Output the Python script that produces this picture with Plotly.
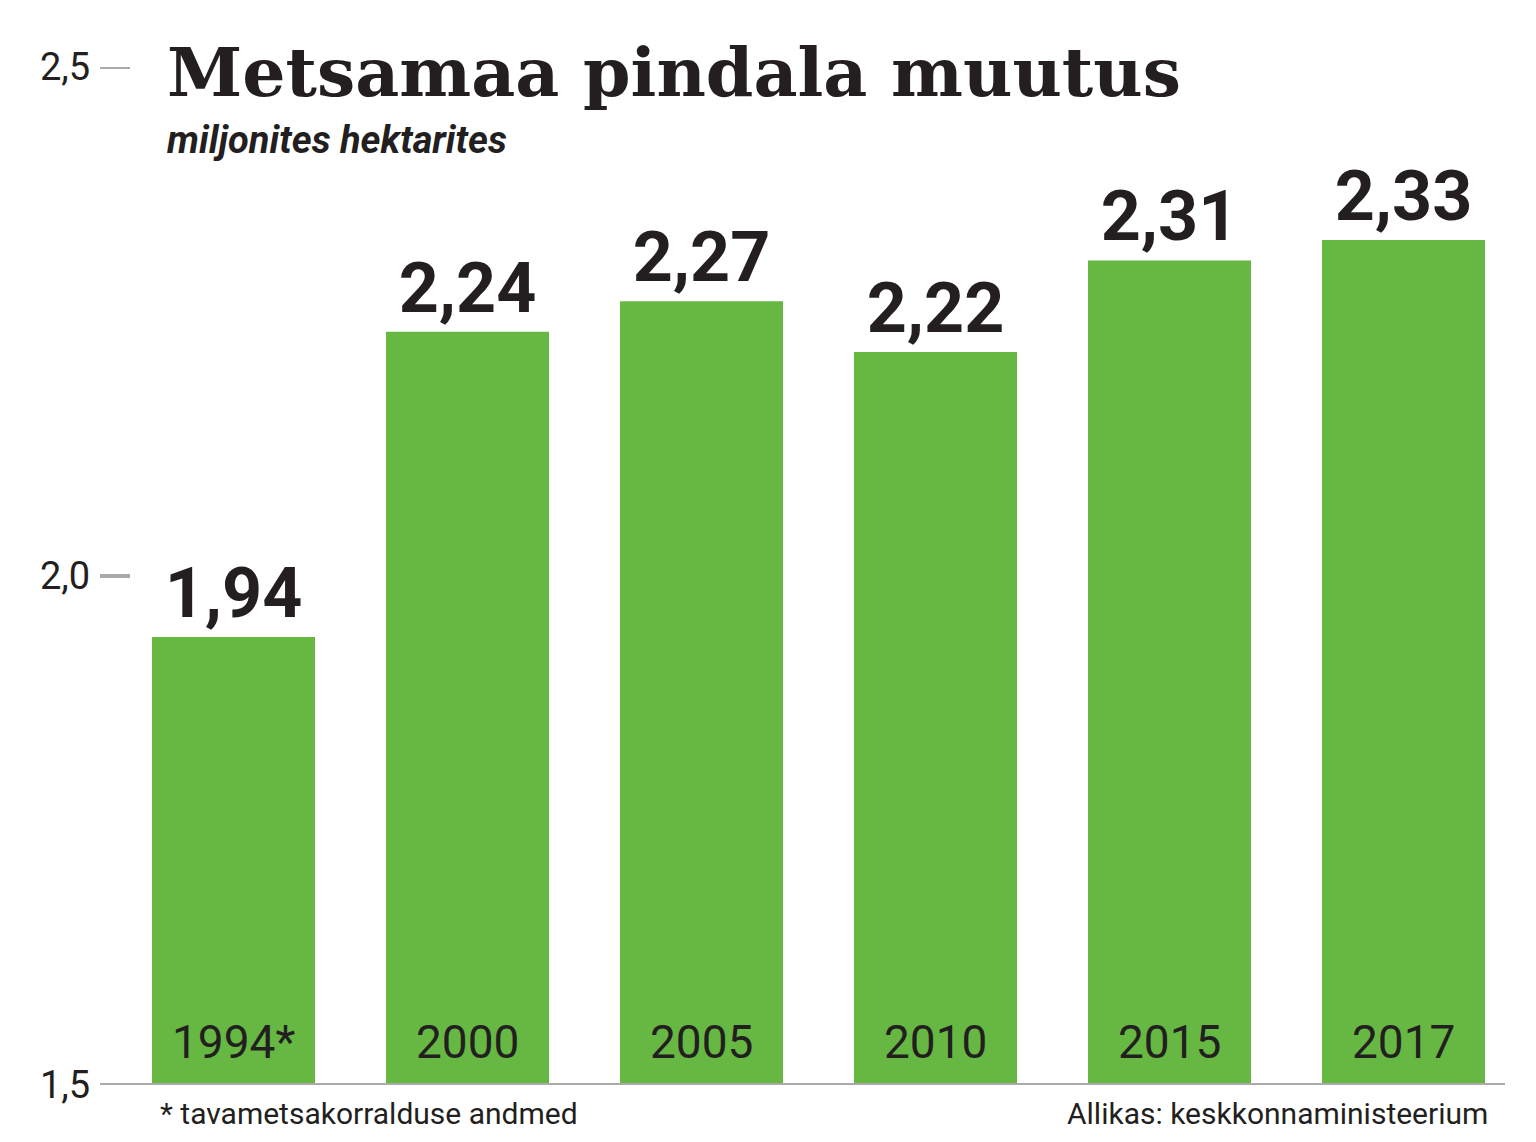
import plotly.graph_objects as go

years = ["1994*", "2000", "2005", "2010", "2015", "2017"]
values = [1.94, 2.24, 2.27, 2.22, 2.31, 2.33]
value_labels = ["1,94", "2,24", "2,27", "2,22", "2,31", "2,33"]
y_ticks = [1.5, 2.0, 2.5]
y_tick_labels = ["1,5", "2,0", "2,5"]

# page has an 8px body margin, so work in a frame shifted by 8px
W, H = 1520, 1126
OFF = 8
TOP, BASE = 67 - OFF, 1085 - OFF
x0, step = 233.5 - OFF, 234.0  # pixel of first bar centre, px per category
xr = [-x0 / step, (W - x0) / step]

def px(p):
    return xr[0] + (p - OFF) / step

def py(p):
    # paper y for a reference pixel row (paper is the plot area)
    return (BASE - (p - OFF)) / (BASE - TOP)

green = "#66b843"
ink = "#231f20"

fig = go.Figure(go.Bar(
    x=list(range(len(years))), y=values, base=0,
    width=163 / step, marker=dict(color=green, line_width=0),
    text=["<b>%s</b>" % t for t in value_labels], textposition="outside",
    cliponaxis=False,
    textfont=dict(family="Roboto", size=70, color=ink),
))

# year labels inside bars
for i, yr in enumerate(years):
    fig.add_annotation(x=i, y=1.5, text=yr, showarrow=False, yanchor="bottom",
                       yshift=14, font=dict(family="Roboto", size=46, color=ink))

# y ticks
for v, lab in zip(y_ticks, y_tick_labels):
    fig.add_annotation(x=px(92), y=v, text=lab, showarrow=False, xanchor="right",
                       font=dict(family="Roboto", size=38, color=ink))
    fig.add_shape(type="line", x0=px(100), x1=px(130), y0=v, y1=v,
                  line=dict(color="#aaaaaa", width=4))

# baseline
fig.add_shape(type="line", x0=px(100), x1=px(1505), y0=1.5, y1=1.5,
              line=dict(color="#aaaaaa", width=4))

fig.add_annotation(xref="paper", yref="paper", x=(165 - OFF) / W, y=py(72),
                   text="<b>Metsamaa pindala muutus</b>", showarrow=False,
                   xanchor="left", yanchor="middle",
                   font=dict(family="DejaVu Serif", size=68, color=ink))
fig.add_annotation(xref="paper", yref="paper", x=(165 - OFF) / W, y=py(140),
                   text="<b><i>miljonites hektarites</i></b>", showarrow=False,
                   xanchor="left", yanchor="middle",
                   font=dict(family="Roboto", size=38, color=ink))
fig.add_annotation(xref="paper", yref="paper", x=(158 - OFF) / W, y=py(1113),
                   text="* tavametsakorralduse andmed", showarrow=False,
                   xanchor="left", yanchor="middle",
                   font=dict(family="Roboto", size=30, color=ink))
fig.add_annotation(xref="paper", yref="paper", x=(1490 - OFF) / W, y=py(1113),
                   text="Allikas: keskkonnaministeerium", showarrow=False,
                   xanchor="right", yanchor="middle",
                   font=dict(family="Roboto", size=30, color=ink))

fig.update_layout(
    width=W, height=H, plot_bgcolor="white", paper_bgcolor="white",
    margin=dict(l=0, r=0, t=TOP, b=H - BASE), showlegend=False,
    xaxis=dict(range=xr, visible=False),
    yaxis=dict(range=[1.5, 2.5], visible=False),
)

fig.write_html("out.html")
